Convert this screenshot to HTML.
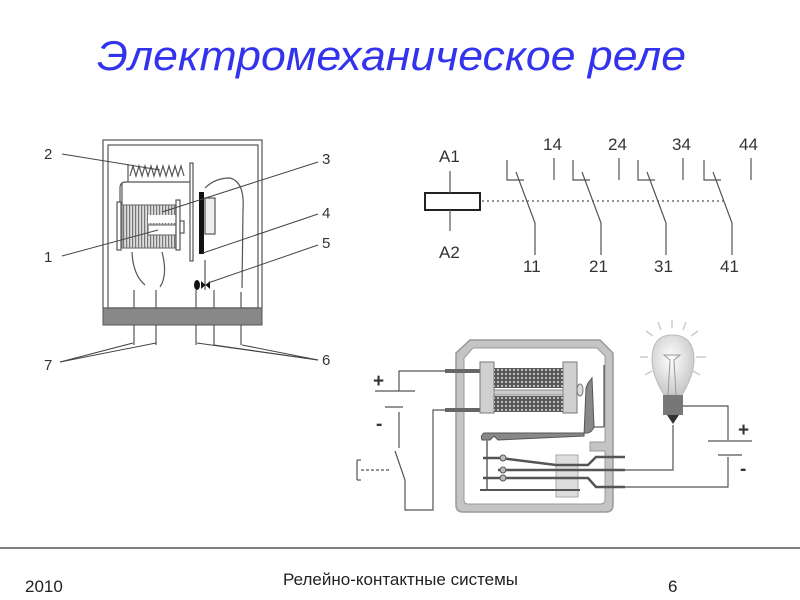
<!DOCTYPE html>
<html><head><meta charset="utf-8"><style>
body{margin:0;background:#fff;width:800px;height:600px;overflow:hidden}
svg{display:block}
text{font-family:"Liberation Sans",sans-serif}
</style></head><body>
<svg width="800" height="600" viewBox="0 0 800 600" xmlns="http://www.w3.org/2000/svg">
<defs>
<pattern id="hatch" width="3" height="6" patternUnits="userSpaceOnUse"><rect width="3" height="6" fill="#ddd"/><rect width="1.2" height="6" fill="#777"/></pattern>
<pattern id="mesh" width="4" height="4" patternUnits="userSpaceOnUse"><rect width="4" height="4" fill="#555"/><circle cx="2" cy="2" r="1.2" fill="#bbb"/></pattern>
<radialGradient id="bulb" cx="0.45" cy="0.4" r="0.6"><stop offset="0" stop-color="#fff"/><stop offset="1" stop-color="#c8c8c8"/></radialGradient>
</defs>
<text x="97" y="70" font-size="42" font-style="italic" fill="#3333ee" textLength="589" lengthAdjust="spacingAndGlyphs">Электромеханическое реле</text>

<!-- left relay -->
<g stroke="#555" fill="none" stroke-width="1.2">
<rect x="103" y="140" width="159" height="168" fill="#fff"/>
<rect x="108" y="145" width="150" height="163"/>
<line x1="128" y1="164" x2="128" y2="182"/>
<polyline points="130,176 133,166 136,176 139,166 142,176 145,166 148,176 151,166 154,176 157,166 160,176 163,166 166,176 169,166 172,176 175,166 178,176 181,166 184,176"/>
<rect x="190" y="163" width="3" height="98" fill="#fff"/>
<path d="M120 248 L120 188 Q120 182 126 182 L190 182"/>
<path d="M122 248 L122 184"/>
<rect x="117" y="202" width="4" height="48" fill="#fff"/>
<rect x="122" y="205" width="54" height="43" fill="url(#hatch)" stroke="#777"/>
<rect x="148" y="215" width="28" height="8" fill="#fff" stroke="none"/>
<rect x="148" y="225" width="28" height="10" fill="#fff" stroke="#777"/>
<rect x="176" y="200" width="4" height="50" fill="#fff"/>
<rect x="180" y="221" width="4" height="12" fill="#fff"/>
<rect x="199" y="192" width="5" height="62" fill="#111" stroke="none"/>
<rect x="205" y="198" width="10" height="36" fill="#eee"/>
<path d="M205 188 Q215 178 230 178 Q245 182 243 210 L242 288"/>
<line x1="205" y1="260" x2="205" y2="290"/>
<path d="M132 252 Q133 275 145 285 M162 252 Q168 275 160 287"/>
<line x1="134" y1="290" x2="134" y2="308"/><line x1="156" y1="290" x2="156" y2="308"/>
<line x1="196" y1="290" x2="196" y2="308"/><line x1="214" y1="290" x2="214" y2="308"/><line x1="241" y1="292" x2="241" y2="308"/>
<line x1="134" y1="325" x2="134" y2="345"/><line x1="156" y1="325" x2="156" y2="345"/>
<line x1="196" y1="325" x2="196" y2="345"/><line x1="214" y1="325" x2="214" y2="345"/><line x1="241" y1="325" x2="241" y2="345"/>
</g>
<ellipse cx="197" cy="285" rx="3" ry="5" fill="#111"/><path d="M201 281 L210 289 L210 281 L201 289 Z" fill="#111"/>
<rect x="103" y="308" width="159" height="17" fill="#888" stroke="#555"/>
<g stroke="#444" stroke-width="1">
<line x1="62" y1="154" x2="160" y2="170"/>
<line x1="62" y1="256" x2="158" y2="230"/>
<line x1="318" y1="162" x2="162" y2="212"/>
<line x1="318" y1="214" x2="203" y2="253"/>
<line x1="318" y1="245" x2="208" y2="283"/>
<line x1="60" y1="362" x2="133" y2="343"/><line x1="60" y1="362" x2="156" y2="343"/>
<line x1="318" y1="360" x2="197" y2="343"/><line x1="318" y1="360" x2="214" y2="345"/><line x1="318" y1="360" x2="242" y2="345"/>
</g>
<g font-size="15" fill="#333">
<text x="44" y="159">2</text><text x="44" y="262">1</text><text x="44" y="370">7</text>
<text x="322" y="164">3</text><text x="322" y="218">4</text><text x="322" y="248">5</text><text x="322" y="365">6</text>
</g>

<!-- schematic -->
<g stroke="#555" fill="none" stroke-width="1.2">
<rect x="425" y="193" width="55" height="17" stroke="#222" stroke-width="2"/>
<line x1="450" y1="171" x2="450" y2="193"/><line x1="450" y1="210" x2="450" y2="231"/>
<line x1="482" y1="201" x2="725" y2="201" stroke-dasharray="2,3"/>
<g id="c1"><polyline points="507,160 507,180 524,180"/><polyline points="516,172 535,223 535,255"/></g>
<use href="#c1" x="66"/><use href="#c1" x="131"/><use href="#c1" x="197"/>
<line x1="554" y1="158" x2="554" y2="180"/><line x1="619" y1="158" x2="619" y2="180"/>
<line x1="683" y1="158" x2="683" y2="180"/><line x1="751" y1="158" x2="751" y2="180"/>
</g>
<g font-size="17" fill="#333">
<text x="439" y="162">A1</text><text x="439" y="258">A2</text>
<text x="543" y="150">14</text><text x="608" y="150">24</text><text x="672" y="150">34</text><text x="739" y="150">44</text>
<text x="523" y="272">11</text><text x="589" y="272">21</text><text x="654" y="272">31</text><text x="720" y="272">41</text>
</g>

<!-- bottom circuit -->
<g fill="none">
<path d="M470 340 L600 340 L613 353 L613 505 Q613 512 606 512 L463 512 Q456 512 456 505 L456 353 Z" stroke="#999" stroke-width="1.5" fill="#c4c4c4"/>
<path d="M473 348 L597 348 L605 356 L605 442 L590 442 L590 451 L605 451 L605 500 Q605 504 600 504 L468 504 Q464 504 464 500 L464 358 Z" fill="#fff" stroke="#999"/>
</g>
<g stroke="#555" stroke-width="1.2" fill="none">
<polyline points="399,391 399,371 453,371"/>
<polyline points="399,412 399,448"/>
<line x1="375" y1="391" x2="415" y2="391"/><line x1="385" y1="407" x2="403" y2="407"/>
<polyline points="395,451 405,480 405,510 433,510 433,410 453,410"/>
<polyline points="357,460 357,480"/><line x1="357" y1="460" x2="361" y2="460"/><line x1="357" y1="480" x2="361" y2="480"/>
<line x1="361" y1="470" x2="389" y2="470" stroke-dasharray="3,2"/>
<polyline points="683,406 728,406 728,440"/>
<line x1="708" y1="441" x2="752" y2="441"/><line x1="718" y1="455" x2="742" y2="455"/>
<polyline points="728,457 728,487 625,487"/>
<polyline points="673,425 673,470 625,470"/>
<polyline points="593,427 604,427"/><polyline points="604,427 604,365"/>
</g>
<line x1="445" y1="371" x2="480" y2="371" stroke="#666" stroke-width="4"/>
<line x1="445" y1="410" x2="480" y2="410" stroke="#666" stroke-width="4"/>
<rect x="480" y="362" width="14" height="51" fill="#d0d0d0" stroke="#777"/>
<rect x="563" y="362" width="14" height="51" fill="#d0d0d0" stroke="#777"/>
<rect x="494" y="368" width="69" height="20" fill="url(#mesh)"/>
<rect x="494" y="390" width="69" height="5" fill="#ccc" stroke="#888"/>
<rect x="494" y="396" width="69" height="16" fill="url(#mesh)"/>
<ellipse cx="580" cy="390" rx="3" ry="6" fill="#ddd" stroke="#777"/>
<path d="M588 383 L592 378 L594 427 Q592 432 588 433 L484 433 Q480 436 482 440 L490 440 L494 436 L498 440 L584 436 L586 388 Z" fill="#888" stroke="#555"/>
<line x1="487" y1="440" x2="487" y2="490" stroke="#888" stroke-width="2"/>
<rect x="556" y="455" width="22" height="42" fill="#ddd" stroke="#aaa"/>
<g stroke="#555" stroke-width="2.5" fill="none">
<polyline points="483,458 500,458 556,465 588,465 596,457 625,457"/>
<polyline points="498,470 625,470"/>
<polyline points="483,478 588,478 596,487 625,487"/>
<line x1="480" y1="490" x2="580" y2="490" stroke-width="2"/>
</g>
<circle cx="503" cy="458" r="3" fill="#bbb" stroke="#555"/><circle cx="503" cy="470" r="3" fill="#bbb" stroke="#555"/><circle cx="503" cy="478" r="3" fill="#bbb" stroke="#555"/>
<g stroke="#ccc" stroke-width="1.5">
<line x1="672" y1="320" x2="672" y2="328"/><line x1="658" y1="322" x2="661" y2="330"/><line x1="686" y1="322" x2="683" y2="330"/>
<line x1="646" y1="331" x2="653" y2="336"/><line x1="698" y1="331" x2="691" y2="336"/>
<line x1="640" y1="357" x2="648" y2="357"/><line x1="696" y1="357" x2="706" y2="357"/>
<line x1="645" y1="375" x2="652" y2="371"/><line x1="700" y1="375" x2="693" y2="371"/>
</g>
<path d="M664 395 Q652 375 652 360 Q652 335 672 335 Q694 335 694 360 Q694 375 682 395 Z" fill="url(#bulb)" stroke="#bbb"/>
<path d="M668 395 L670 360 L664 355 L680 355 L674 360 L676 395" fill="none" stroke="#999"/>
<rect x="663" y="395" width="20" height="20" fill="#777"/>
<path d="M667 415 L679 415 L673 424 Z" fill="#333"/>
<g font-size="19" fill="#333" font-weight="bold">
<text x="373" y="387">+</text><text x="376" y="430">-</text>
<text x="738" y="436">+</text><text x="740" y="475">-</text>
</g>

<line x1="0" y1="548" x2="800" y2="548" stroke="#555" stroke-width="1.5"/>
<g font-size="17" fill="#222">
<text x="25" y="592">2010</text>
<text x="283" y="585">Релейно-контактные системы</text>
<text x="668" y="592">6</text>
</g>
</svg>
</body></html>
